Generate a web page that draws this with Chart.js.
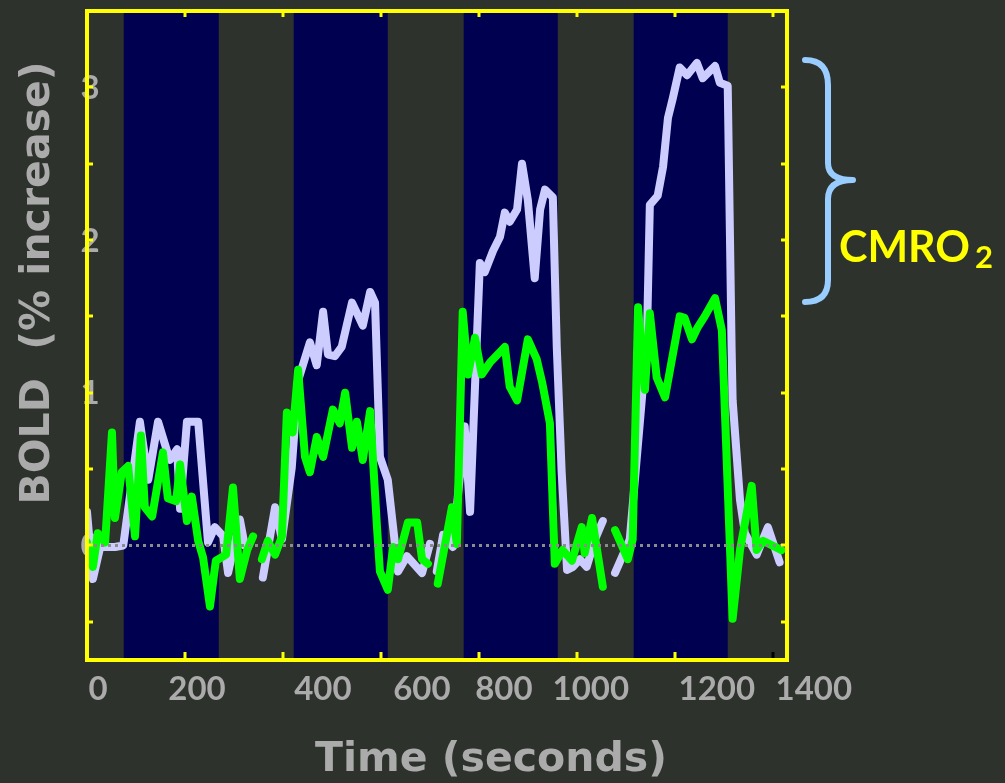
<!DOCTYPE html>
<html lang="en">
<head>
<meta charset="utf-8">
<title>BOLD response</title>
<script src="https://cdn.jsdelivr.net/npm/chart.js@4"></script>
<style>
html,body{margin:0;height:100%;background:#2d322d}
#wrap{width:1005px;height:783px;position:relative}
</style>
</head>
<body>
<div id="wrap"><canvas id="c"></canvas></div>
<script>
/* ---------- data ---------- */
// lavender trace (BOLD), time in s / % change; null = break in the line
const lavT = [0,12,27,57,74,108,125,145,169,184,190,204,227,247,261,278,288,312,322,340,
  359,384,398,418,431,455,469,482,492,506,520,541,563,578,588,598,614,635,653,684,700,707,
  714,727,747,771,782,802,812,829,843,853,863,878,888,900,914,925,935,951,959,969,980,992,1006,1020,1037,1053,1065,
  1078,1108,1129,1143,1149,1165,1176,1186,1196,1210,1225,1245,1257,1282,1292,1308,1316,1318,1333,1343,1367,1390,1414];
const lavV = [0.22,-0.22,-0.01,-0.01,0,0.81,0.43,0.81,0.56,0.63,0.24,0.81,0.81,0.02,0.12,0.06,-0.18,0.17,0.0,null,
  -0.21,0.25,0.04,0.51,1.08,1.33,1.18,1.53,1.25,1.24,1.30,1.59,1.44,1.66,1.59,0.58,0.43,-0.17,-0.07,-0.18,0.01,null,
  -0.17,0.07,-0.01,0.78,0.22,1.85,1.79,1.93,2.02,2.18,2.12,2.20,2.50,2.26,1.75,2.20,2.33,2.28,1.30,0.48,-0.16,-0.14,-0.09,-0.14,0.04,0.16,null,
  -0.18,0.04,0.82,1.35,2.23,2.29,2.48,2.80,2.93,3.13,3.08,3.16,3.06,3.14,3.03,3.01,1.28,0.95,0.30,0.08,-0.06,0.12,-0.11];

// green trace
const grnT = [0,12,22,37,51,57,71,84,98,110,118,133,155,165,182,190,204,214,227,237,251,263,284,298,312,327,339,348,
  357,369,384,398,408,420,431,445,455,469,482,502,516,527,541,551,563,578,592,598,614,625,635,655,674,684,696,706,
  716,745,755,767,778,792,806,823,853,863,878,900,918,929,945,955,971,990,1010,1016,1031,1053,1065,
  1078,1104,1114,1125,1139,1149,1163,1180,1210,1220,1235,1247,1261,1282,1296,1318,1333,1357,1367,1380,1418];
const grnV = [0.02,-0.14,0.08,0.02,0.74,0.18,0.48,0.52,0.06,0.72,0.25,0.19,0.61,0.31,0.29,0.53,0.16,0.32,0.03,-0.08,-0.40,-0.10,-0.06,0.38,-0.22,-0.03,0.06,null,
  -0.09,0.03,-0.06,0.06,0.87,0.74,1.15,0.58,0.48,0.71,0.58,0.89,0.80,1.00,0.64,0.81,0.56,0.88,0.12,-0.17,-0.29,-0.01,-0.09,0.15,0.15,-0.09,-0.12,null,
  -0.25,0.25,0.01,1.53,1.12,1.36,1.12,1.20,1.30,1.04,0.95,1.35,1.22,1.07,0.80,-0.12,-0.03,-0.10,0.12,-0.05,0.18,-0.27,null,
  0.10,-0.09,0.04,1.56,1.02,1.52,1.10,0.97,1.50,1.49,1.35,1.43,1.50,1.62,1.41,-0.48,-0.03,0.39,-0.03,0.03,-0.03];

// stimulus blocks (s)
const blockOn  = [75, 422, 769, 1116];
const blockOff = [269, 614, 961, 1308];

// axes
const X_MIN = 0, X_MAX = 1429;
const Y_MIN = -0.75, Y_MAX = 3.5;
const xTicks  = [200, 400, 600, 800, 1000, 1200, 1400];
const yTicks  = [-0.5, 0, 0.5, 1, 1.5, 2, 2.5, 3];
const xLabelVals = [0, 200, 400, 600, 800, 1000, 1200, 1400];
const xLabelText = ['0','200','400','600','800','1000','1200','1400'];
const yLabelVals = [0, 1, 2, 3];
const yLabelText = ['0','1','2','3'];

/* ---------- look ---------- */
const BG = '#2d322d', NAVY = '#000050', YEL = '#ffff00', GREY = '#ababab';
const xLabelShift = [11, 12, 40, 41, 25, 14, 42, 41]; // labels sit off their ticks on the slide

const pts = (ts, vs) => ts.map((t, i) => ({x: t, y: vs[i]}));

const bands = [{x: X_MIN, y: Y_MIN}];
blockOn.forEach((on, i) => { bands.push({x: on, y: Y_MAX}); bands.push({x: blockOff[i], y: Y_MIN}); });
bands.push({x: X_MAX, y: Y_MIN});

const deco = {
  id: 'deco',
  beforeDraw(ch) {
    const c = ch.ctx;
    c.save(); c.fillStyle = BG; c.fillRect(0, 0, ch.width, ch.height); c.restore();
  },
  beforeDatasetsDraw(ch) {
    const c = ch.ctx, a = ch.chartArea, ys = ch.scales.y;
    c.save();
    c.fillStyle = GREY; c.font = 'bold 33px Lato'; c.textAlign = 'center'; c.textBaseline = 'middle';
    yLabelVals.forEach((v, i) => c.fillText(yLabelText[i], a.left + 3, ys.getPixelForValue(v) + 1));
    c.restore();
  },
  afterDatasetsDraw(ch) {
    const c = ch.ctx, a = ch.chartArea, xs = ch.scales.x, ys = ch.scales.y;
    c.save();
    c.strokeStyle = YEL; c.lineWidth = 3;
    xTicks.forEach(v => {
      const p = Math.round(xs.getPixelForValue(v));
      c.beginPath(); c.moveTo(p, a.top); c.lineTo(p, a.top + 6); c.stroke();
      c.strokeStyle = v === 1400 ? '#000' : YEL;
      c.beginPath(); c.moveTo(p, a.bottom); c.lineTo(p, a.bottom - 8); c.stroke();
      c.strokeStyle = YEL;
    });
    yTicks.forEach(v => {
      const p = Math.round(ys.getPixelForValue(v));
      c.beginPath(); c.moveTo(a.left, p); c.lineTo(a.left + 6, p); c.stroke();
      c.beginPath(); c.moveTo(a.right, p); c.lineTo(a.right - 6, p); c.stroke();
    });
    c.lineWidth = 4;
    c.strokeRect(a.left, a.top, a.right - a.left, a.bottom - a.top);
    c.restore();
  },
  afterDraw(ch) {
    const c = ch.ctx, a = ch.chartArea, xs = ch.scales.x;
    c.save();
    // x tick labels
    c.fillStyle = GREY; c.font = 'bold 33px Lato'; c.textAlign = 'center'; c.textBaseline = 'middle';
    xLabelVals.forEach((v, i) => c.fillText(xLabelText[i], xs.getPixelForValue(v) + xLabelShift[i], a.bottom + 29));
    // axis titles
    c.font = 'bold 41px "DejaVu Sans"';
    c.fillText('Time (seconds)', a.left + 404, a.bottom + 100);
    c.save();
    c.translate(a.left - 49, a.top + 272); c.rotate(-Math.PI / 2);
    c.fillText('BOLD  (% increase)', 0, 0);
    c.restore();
    // brace
    const r = a.right;
    c.strokeStyle = '#99ccff'; c.lineWidth = 6; c.lineCap = 'round'; c.lineJoin = 'round';
    c.beginPath();
    c.moveTo(r + 18, 60);
    c.quadraticCurveTo(r + 41, 60, r + 41, 85);
    c.lineTo(r + 41, 163);
    c.quadraticCurveTo(r + 41, 180, r + 66, 180);
    c.quadraticCurveTo(r + 41, 180, r + 41, 199);
    c.lineTo(r + 41, 280);
    c.quadraticCurveTo(r + 41, 302, r + 18, 302);
    c.stroke();
    // label
    c.fillStyle = YEL; c.textAlign = 'left'; c.textBaseline = 'alphabetic';
    c.font = 'bold 43px Lato';
    c.fillText('CMRO', r + 52, 262);
    const w = c.measureText('CMRO').width;
    c.font = 'bold 31px Lato';
    c.fillText('2', r + 52 + w + 5, 268);
    c.restore();
  }
};

new Chart(document.getElementById('c'), {
  type: 'line',
  data: {
    datasets: [
      {data: [{x: X_MIN, y: 0}, {x: X_MAX, y: 0}], borderColor: '#8c8c8c', borderWidth: 3, borderDash: [3, 4], pointRadius: 0},
      {data: pts(grnT, grnV), borderColor: '#00ff00', borderWidth: 8, pointRadius: 0, spanGaps: false,
       borderJoinStyle: 'round', borderCapStyle: 'round'},
      {data: pts(lavT, lavV), borderColor: '#ccccff', borderWidth: 8, pointRadius: 0, spanGaps: false,
       borderJoinStyle: 'round', borderCapStyle: 'round'},
      {data: bands, stepped: 'before', borderWidth: 0, borderColor: 'rgba(0,0,0,0)', pointRadius: 0,
       fill: 'start', backgroundColor: NAVY}
    ]
  },
  options: {
    animation: false, responsive: true, maintainAspectRatio: false,
    layout: {padding: {left: 87, right: 218, top: 11, bottom: 123}},
    scales: {
      x: {type: 'linear', min: X_MIN, max: X_MAX, display: false},
      y: {type: 'linear', min: Y_MIN, max: Y_MAX, display: false}
    },
    plugins: {legend: {display: false}, tooltip: {enabled: false}}
  },
  plugins: [deco]
});
</script>
</body>
</html>
